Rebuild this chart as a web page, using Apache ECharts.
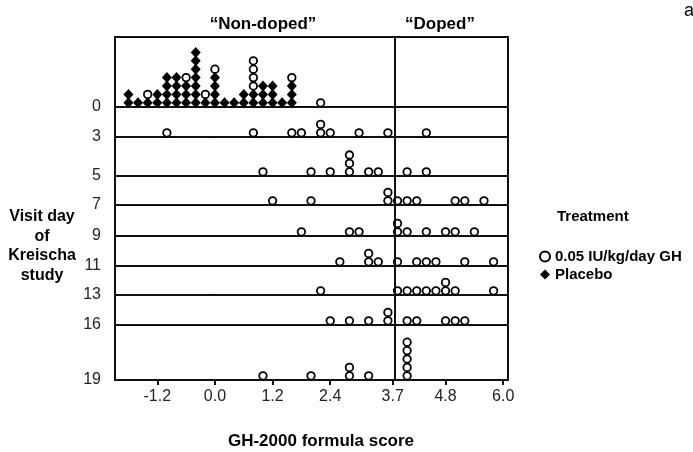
<!DOCTYPE html>
<html>
<head>
<meta charset="utf-8">
<script src="https://cdn.jsdelivr.net/npm/echarts@6/dist/echarts.min.js"></script>
<style>
  html, body { margin: 0; padding: 0; background: #fff; }
  #chart { width: 693px; height: 452px; }
</style>
</head>
<body>
<div id="chart"></div>
<script>
// visit days (one row each) and x axis ticks
const visitDays = [0, 3, 5, 7, 9, 11, 13, 16, 19];
const xTicks = [-1.2, 0.0, 1.2, 2.4, 3.7, 4.8, 6.0];
const cutoff = 3.74;

// GH-2000 scores, placebo group (day 0 only)
const placeboDay0 = [-1.8, -1.8, -1.6, -1.4, -1.2, -1.2, -1.0, -1.0, -1.0, -1.0,
  -0.8, -0.8, -0.8, -0.8, -0.6, -0.6, -0.6, -0.4, -0.4, -0.4, -0.4, -0.4, -0.4, -0.4,
  -0.2, 0.0, 0.0, 0.0, 0.0, 0.2, 0.4, 0.6, 0.6, 0.8, 0.8, 1.0, 1.0, 1.0,
  1.2, 1.2, 1.2, 1.4, 1.6, 1.6, 1.6];

// GH-2000 scores, 0.05 IU/kg/day GH group
const ghDay0 = [-1.4, -0.6, -0.2, 0.0, 0.8, 0.8, 0.8, 0.8, 1.6, 2.2];
const ghDay3 = [-1.0, 0.8, 1.6, 1.8, 2.2, 2.2, 2.4, 3.0, 3.6, 4.4];
const ghDay5 = [1.0, 2.0, 2.4, 2.8, 2.8, 2.8, 3.2, 3.4, 4.0, 4.4];
const ghDay7 = [1.2, 2.0, 3.6, 3.6, 3.8, 4.0, 4.2, 5.0, 5.2, 5.6];
const ghDay9 = [1.8, 2.8, 3.0, 3.8, 3.8, 4.0, 4.4, 4.8, 5.0, 5.4];
const ghDay11 = [2.6, 3.2, 3.2, 3.4, 3.8, 4.2, 4.4, 4.6, 5.2, 5.8];
const ghDay13 = [2.2, 3.8, 4.0, 4.2, 4.4, 4.6, 4.8, 4.8, 5.0, 5.8];
const ghDay16 = [2.4, 2.8, 3.2, 3.6, 3.6, 4.0, 4.2, 4.8, 5.0, 5.2];
const ghDay19 = [1.0, 2.0, 2.8, 2.8, 3.2, 4.0, 4.0, 4.0, 4.0, 4.0];

const ghByRow = [ghDay0, ghDay3, ghDay5, ghDay7, ghDay9, ghDay11, ghDay13, ghDay16, ghDay19];
const placeboByRow = [placeboDay0, [], [], [], [], [], [], [], []];

// layout (pixels)
const rowBottoms = [107, 137, 176, 205, 236, 266, 295, 325, 380];
const plotTop = 37, plotLeft = 115, plotRight = 185;
const stepPx = 8.4;   // height of one stacked dot
const font = 'Liberation Sans, Arial, sans-serif';
const ink = '#111';

// stack equal values on top of each other: placebo first, GH above
function stackRow(placebo, gh) {
  const counts = {};
  const place = v => {
    const key = v.toFixed(1);
    const lvl = counts[key] || 0;
    counts[key] = lvl + 1;
    return [v, lvl + 0.5];
  };
  return { placebo: placebo.map(place), gh: gh.map(place) };
}

const grids = [], xAxes = [], yAxes = [], series = [];
const last = visitDays.length - 1;

visitDays.forEach((day, i) => {
  const top = i === 0 ? plotTop : rowBottoms[i - 1];
  const height = rowBottoms[i] - top;
  grids.push({
    left: plotLeft, right: plotRight, top: top, height: height,
    show: true, borderColor: ink, borderWidth: 2, backgroundColor: 'transparent'
  });
  const isLast = i === last;
  xAxes.push({
    type: 'value', gridIndex: i, min: -2.08, max: 6.1,
    axisLine: { show: false },
    splitLine: { show: false },
    axisTick: isLast
      ? { show: true, customValues: xTicks, length: 5, lineStyle: { color: ink, width: 2 } }
      : { show: false },
    axisLabel: isLast
      ? { show: true, customValues: xTicks, formatter: v => v.toFixed(1),
          color: '#222', fontFamily: font, fontSize: 16, margin: 9 }
      : { show: false },
    name: isLast ? 'GH-2000 formula score' : '',
    nameLocation: 'middle', nameGap: 53,
    nameTextStyle: { color: '#000', fontFamily: font, fontSize: 17, fontWeight: 'bold', padding: [0, 0, 0, 19] }
  });
  yAxes.push({
    type: 'value', gridIndex: i, min: 0, max: height / stepPx,
    axisLine: { show: false },
    splitLine: { show: false },
    axisTick: { show: true, customValues: [0], length: 5, lineStyle: { color: ink, width: 2 } },
    axisLabel: { show: true, customValues: [0], formatter: () => String(day),
      color: '#222', fontFamily: font, fontSize: 16, margin: 14 }
  });
  const pts = stackRow(placeboByRow[i], ghByRow[i]);
  series.push({
    name: '0.05 IU/kg/day GH', type: 'scatter', xAxisIndex: i, yAxisIndex: i,
    symbol: 'circle', symbolSize: 7.5,
    itemStyle: { color: '#fff', borderColor: '#000', borderWidth: 1.8, opacity: 1 },
    data: pts.gh,
    markLine: {
      silent: true, symbol: ['none', 'none'], label: { show: false },
      lineStyle: { color: ink, width: 2, type: 'solid' },
      data: [{ xAxis: cutoff }]
    }
  });
  series.push({
    name: 'Placebo', type: 'scatter', xAxisIndex: i, yAxisIndex: i,
    symbol: 'diamond', symbolSize: [10, 11],
    itemStyle: { color: '#000', opacity: 1 },
    data: pts.placebo
  });
});

const chart = echarts.init(document.getElementById('chart'));
chart.setOption({
  animation: false,
  backgroundColor: '#fff',
  grid: grids,
  xAxis: xAxes,
  yAxis: yAxes,
  series: series,
  legend: {
    data: ['0.05 IU/kg/day GH', 'Placebo'],
    orient: 'vertical', left: 534, top: 244,
    itemWidth: 10, itemHeight: 10, itemGap: 3,
    textStyle: { color: '#000', fontFamily: font, fontSize: 15, fontWeight: 'bold' }
  },
  graphic: [
    { type: 'text', left: 557, top: 209,
      style: { text: 'Treatment', font: 'bold 15px ' + font, fill: '#000' } },
    { type: 'text', x: 42, y: 207,
      style: { text: 'Visit day\nof\nKreischa\nstudy', font: 'bold 16px ' + font,
        fill: '#000', align: 'center', lineHeight: 19.5 } },
    { type: 'text', x: 263, y: 24,
      style: { text: '\u201CNon-doped\u201D', font: 'bold 17px ' + font, fill: '#000',
        align: 'center', verticalAlign: 'middle' } },
    { type: 'text', x: 440, y: 24,
      style: { text: '\u201CDoped\u201D', font: 'bold 17px ' + font, fill: '#000',
        align: 'center', verticalAlign: 'middle' } },
    { type: 'text', x: 684, y: 2,
      style: { text: 'a', font: '18px ' + font, fill: '#000' } }
  ]
});
</script>
</body>
</html>
